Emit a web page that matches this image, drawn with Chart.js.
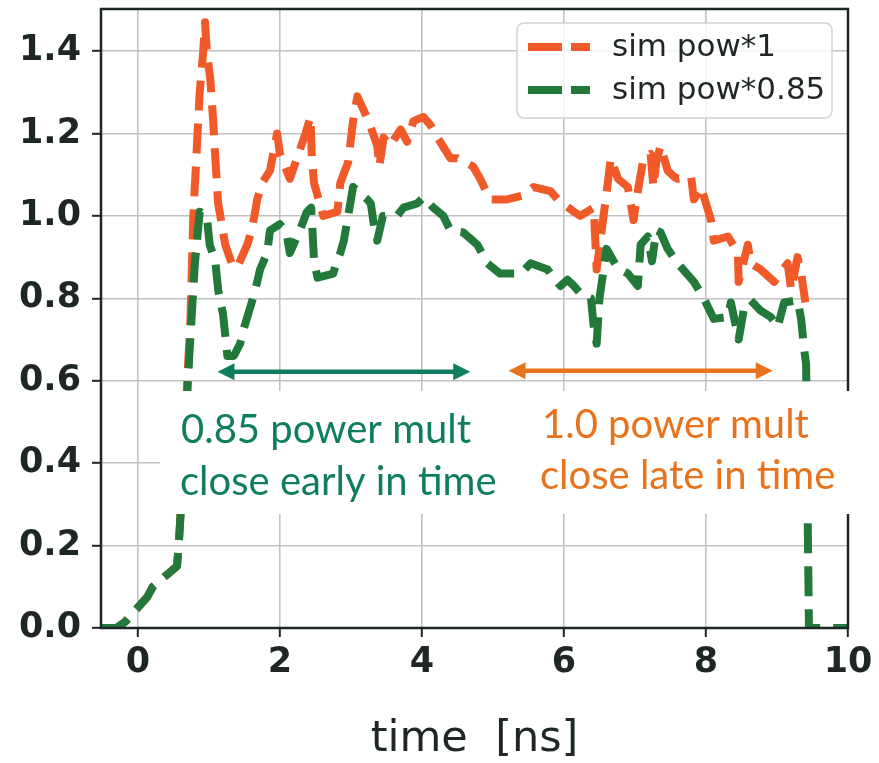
<!DOCTYPE html>
<html>
<head>
<meta charset="utf-8">
<title>sim pow</title>
<script src="https://cdn.jsdelivr.net/npm/chart.js@4.4.0/dist/chart.umd.min.js"></script>
<style>
    html, body { margin: 0; padding: 0; background: #ffffff; }
    #wrap { width: 879px; height: 763px; }
</style>
</head>
<body>
<div id="wrap"><canvas id="powChart" width="879" height="763"></canvas></div>
<script>
// Values: time in ns, simulated power
const timeFull = [
    -0.52, -0.3, -0.18, 0.13, 0.21, 0.55, 0.57, 0.59, 0.68, 0.74,
    0.78, 0.87, 0.92, 0.945, 0.97, 1.02, 1.06, 1.09, 1.13, 1.23, 1.33,
    1.40, 1.54, 1.61, 1.68, 1.75, 1.86, 1.96, 2.0, 2.14, 2.24,
    2.36, 2.43, 2.45, 2.48, 2.61, 2.81, 2.85, 2.96, 3.03, 3.09,
    3.17, 3.27, 3.37, 3.40, 3.46, 3.55, 3.70, 3.79, 3.88, 4.02,
    4.12, 4.22, 4.40, 4.50, 4.72, 4.82, 4.96, 5.20, 5.43, 5.57,
    5.81, 5.91, 6.14, 6.23, 6.42, 6.46, 6.52, 6.61, 6.66, 6.76,
    6.90, 6.98, 7.04, 7.12, 7.22, 7.26, 7.30, 7.36, 7.46, 7.55,
    7.60, 7.79, 7.83, 7.93, 8.07, 8.11, 8.31, 8.45, 8.46, 8.59,
    8.63, 8.77, 8.96, 9.15, 9.20, 9.29, 9.34, 9.40
];
const powFull = [
    0, 0, 0.015, 0.075, 0.10, 0.15, 0.19, 0.245, 0.55, 0.75,
    1.0, 1.3, 1.40, 1.47, 1.40, 1.33, 1.23, 1.14, 1.03, 0.93, 0.88,
    0.875, 0.93, 0.97, 1.04, 1.08, 1.11, 1.20, 1.15, 1.09, 1.14,
    1.20, 1.24, 1.14, 1.08, 1.0, 1.01, 1.08, 1.13, 1.23, 1.29,
    1.26, 1.22, 1.17, 1.12, 1.19, 1.17, 1.21, 1.18, 1.23, 1.24,
    1.22, 1.19, 1.14, 1.14, 1.12, 1.09, 1.04, 1.04, 1.05, 1.07,
    1.06, 1.04, 1.01, 1.0, 1.02, 0.87, 0.95, 1.07, 1.14, 1.09,
    1.07, 0.99, 1.06, 1.14, 1.15, 1.07, 1.13, 1.17, 1.11, 1.095,
    1.09, 1.095, 1.04, 1.07, 0.99, 0.94, 0.95, 0.91, 0.84, 0.93,
    0.885, 0.87, 0.84, 0.885, 0.82, 0.90, 0.86, 0.79
];

const timeScaled = [
    -0.52, -0.3, -0.18, 0.13, 0.21, 0.55, 0.57, 0.59, 0.66, 0.72,
    0.80, 0.87, 0.97, 1.01, 1.09, 1.13, 1.20, 1.26, 1.35, 1.44,
    1.48, 1.62, 1.68, 1.72, 1.82, 1.86, 2.00, 2.09, 2.14, 2.28,
    2.38, 2.44, 2.46, 2.48, 2.53, 2.75, 2.80, 2.85, 2.90, 2.96,
    3.03, 3.13, 3.23, 3.28, 3.33, 3.37, 3.45, 3.65, 3.74, 3.93,
    4.02, 4.16, 4.30, 4.40, 4.58, 4.78, 4.92, 5.10, 5.39, 5.53,
    5.77, 5.85, 5.95, 6.05, 6.14, 6.24, 6.38, 6.42, 6.46, 6.50,
    6.60, 6.75, 6.90, 7.04, 7.08, 7.18, 7.24, 7.30, 7.36, 7.46,
    7.60, 7.83, 7.97, 8.11, 8.31, 8.35, 8.46, 8.53, 8.63, 8.77,
    8.91, 9.01, 9.10, 9.29, 9.34, 9.38, 9.41, 9.43, 9.45, 10.0
];
const powScaled = [
    0, 0, 0.015, 0.075, 0.10, 0.15, 0.19, 0.245, 0.45, 0.65,
    0.88, 1.01, 1.0, 0.93, 0.89, 0.82, 0.76, 0.66, 0.66, 0.69,
    0.72, 0.80, 0.84, 0.87, 0.91, 0.965, 0.98, 0.96, 0.91, 0.965,
    1.01, 1.02, 0.96, 0.89, 0.85, 0.86, 0.89, 0.91, 0.94, 1.0,
    1.07, 1.055, 1.04, 1.03, 0.97, 0.94, 1.0, 1.0, 1.02, 1.03,
    1.045, 1.02, 1.0, 0.965, 0.96, 0.93, 0.885, 0.86, 0.86, 0.885,
    0.87, 0.85, 0.83, 0.845, 0.83, 0.81, 0.80, 0.73, 0.69, 0.80,
    0.92, 0.875, 0.86, 0.83, 0.93, 0.95, 0.89, 0.965, 0.96, 0.92,
    0.885, 0.84, 0.80, 0.75, 0.755, 0.79, 0.70, 0.77, 0.795, 0.77,
    0.755, 0.73, 0.79, 0.795, 0.75, 0.68, 0.64, 0.3, 0, 0
];

const xTicks = [0, 2, 4, 6, 8, 10];
const yTicks = [0, 0.2, 0.4, 0.6, 0.8, 1.0, 1.2, 1.4];

// time ranges marked by the two arrows
const earlyRange = [1.12, 4.68];
const lateRange = [5.22, 8.94];

const orange = '#f05a28';
const green = '#22793a';
const noteGreen = '#0f7d5f';
const noteOrange = '#e8731c';
const ink = '#1e2626';

function toPoints(xs, ys) {
    return xs.map((x, i) => ({ x: x, y: ys[i] }));
}

// matplotlib style box round the plot area
const frame = {
    id: 'frame',
    afterDatasetsDraw(chart) {
        const a = chart.chartArea;
        const ctx = chart.ctx;
        ctx.save();
        ctx.strokeStyle = ink;
        ctx.lineWidth = 2.5;
        ctx.strokeRect(a.left, a.top, a.right - a.left, a.bottom - a.top);
        ctx.restore();
    }
};

// legend box in the upper right corner
const legendBox = {
    id: 'legendBox',
    afterDraw(chart) {
        const ctx = chart.ctx;
        const sets = chart.data.datasets;
        ctx.save();
        ctx.beginPath();
        ctx.roundRect(517, 23, 315, 95, 7);
        ctx.fillStyle = 'rgba(255,255,255,0.85)';
        ctx.fill();
        ctx.strokeStyle = '#d2d2d2';
        ctx.lineWidth = 1.5;
        ctx.stroke();
        sets.forEach((ds, i) => {
            const y = 47 + i * 43;
            ctx.beginPath();
            ctx.setLineDash([34, 9]);
            ctx.lineCap = 'butt';
            ctx.strokeStyle = ds.borderColor;
            ctx.lineWidth = 8;
            ctx.moveTo(528, y);
            ctx.lineTo(590, y);
            ctx.stroke();
            ctx.setLineDash([]);
            ctx.fillStyle = ink;
            ctx.font = '31px "DejaVu Sans"';
            ctx.textBaseline = 'middle';
            ctx.textAlign = 'left';
            ctx.fillText(ds.label, 612, y + 1);
        });
        ctx.restore();
    }
};

function drawArrow(ctx, x1, x2, y, color) {
    const head = 17, half = 8.5;
    ctx.strokeStyle = color;
    ctx.fillStyle = color;
    ctx.lineWidth = 4.5;
    ctx.beginPath();
    ctx.moveTo(x1 + head - 2, y);
    ctx.lineTo(x2 - head + 2, y);
    ctx.stroke();
    ctx.beginPath();
    ctx.moveTo(x1, y);
    ctx.lineTo(x1 + head, y - half);
    ctx.lineTo(x1 + head, y + half);
    ctx.closePath();
    ctx.fill();
    ctx.beginPath();
    ctx.moveTo(x2, y);
    ctx.lineTo(x2 - head, y - half);
    ctx.lineTo(x2 - head, y + half);
    ctx.closePath();
    ctx.fill();
}

// pasted-on notes: arrows and text on white boxes
const notes = {
    id: 'notes',
    afterDraw(chart) {
        const ctx = chart.ctx;
        const xs = chart.scales.x;
        const ys = chart.scales.y;
        ctx.save();
        ctx.fillStyle = '#ffffff';
        ctx.fillRect(160, 391, 708, 123);

        const yArrow = ys.getPixelForValue(0.622);
        drawArrow(ctx, xs.getPixelForValue(earlyRange[0]), xs.getPixelForValue(earlyRange[1]), yArrow, noteGreen);
        drawArrow(ctx, xs.getPixelForValue(lateRange[0]), xs.getPixelForValue(lateRange[1]), yArrow - 1, noteOrange);

        ctx.font = '40px Lato';
        ctx.textAlign = 'left';
        ctx.textBaseline = 'alphabetic';
        ctx.fillStyle = noteGreen;
        ctx.fillText('0.85 power mult', 181, 443);
        ctx.fillText('close early in time', 180, 495);
        ctx.fillStyle = noteOrange;
        ctx.fillText('1.0 power mult', 542, 438);
        ctx.fillText('close late in time', 540, 489);
        ctx.restore();
    }
};

const lineStyle = {
    borderWidth: 8,
    borderDash: [30, 13],
    borderCapStyle: 'butt',
    borderJoinStyle: 'round',
    pointRadius: 0,
    tension: 0,
    fill: false
};

const ctx = document.getElementById('powChart').getContext('2d');
const powChart = new Chart(ctx, {
    type: 'line',
    data: {
        datasets: [
            Object.assign({
                label: 'sim pow*1',
                data: toPoints(timeFull, powFull),
                borderColor: orange,
                order: 2
            }, lineStyle),
            Object.assign({
                label: 'sim pow*0.85',
                data: toPoints(timeScaled, powScaled),
                borderColor: green,
                order: 1
            }, lineStyle)
        ]
    },
    options: {
        responsive: false,
        animation: false,
        layout: { padding: { left: 0, top: 9, right: 31, bottom: 0 } },
        plugins: {
            legend: { display: false },
            tooltip: { enabled: false }
        },
        scales: {
            x: {
                type: 'linear',
                min: -0.52,
                max: 10,
                afterBuildTicks: function(scale) {
                    scale.ticks = xTicks.map(v => ({ value: v }));
                },
                afterFit: function(scale) {
                    scale.height = 135;
                    scale.paddingLeft = 0;
                    scale.paddingRight = 0;
                },
                border: { display: false },
                grid: {
                    color: '#c2c2c2',
                    lineWidth: 1.6,
                    tickColor: ink,
                    tickWidth: 2,
                    tickLength: 9
                },
                ticks: {
                    color: ink,
                    autoSkip: false,
                    maxRotation: 0,
                    padding: 5,
                    font: { family: 'DejaVu Sans', size: 35, weight: 'bold' },
                    callback: function(value) {
                        return String(value);
                    }
                },
                title: {
                    display: true,
                    text: 'time  [ns]',
                    color: ink,
                    font: { family: 'DejaVu Sans', size: 43 },
                    padding: { top: 0, bottom: -3 }
                }
            },
            y: {
                min: 0,
                max: 1.502,
                afterBuildTicks: function(scale) {
                    scale.ticks = yTicks.map(v => ({ value: v }));
                },
                afterFit: function(scale) {
                    scale.width = 101;
                    scale.paddingTop = 0;
                    scale.paddingBottom = 0;
                },
                border: { display: false },
                grid: {
                    color: '#c2c2c2',
                    lineWidth: 1.6,
                    tickColor: ink,
                    tickWidth: 2,
                    tickLength: 9
                },
                ticks: {
                    color: ink,
                    autoSkip: false,
                    padding: 11,
                    font: { family: 'DejaVu Sans', size: 35, weight: 'bold' },
                    callback: function(value) {
                        return value.toFixed(1);
                    }
                }
            }
        }
    },
    plugins: [frame, legendBox, notes]
});
</script>
</body>
</html>
